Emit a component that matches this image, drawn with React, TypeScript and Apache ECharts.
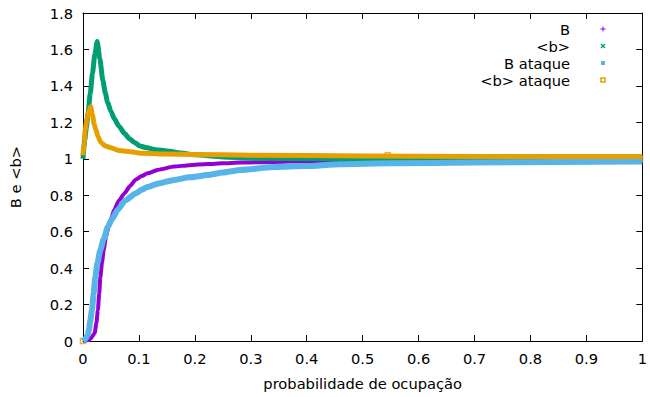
import React, { useEffect, useRef } from "react";
import * as echarts from "echarts";

// B
const bX = [0, 0.01, 0.014, 0.018, 0.021, 0.024, 0.0266, 0.029, 0.031, 0.034, 0.037, 0.041, 0.0455, 0.05, 0.056, 0.064, 0.074, 0.084, 0.094, 0.105, 0.115, 0.135, 0.163, 0.19, 0.223, 0.25, 0.282, 0.34, 0.4, 0.459, 0.55, 0.7, 0.85, 1.0];
const bY = [0, 0.005, 0.015, 0.03, 0.045, 0.1, 0.17, 0.26, 0.35, 0.43, 0.5, 0.57, 0.626, 0.67, 0.72, 0.77, 0.81, 0.85, 0.885, 0.905, 0.92, 0.94, 0.957, 0.965, 0.971, 0.975, 0.979, 0.983, 0.987, 0.99, 0.993, 0.996, 0.998, 1.0];

// <b>
const mbX = [0, 0.003, 0.006, 0.009, 0.013, 0.017, 0.021, 0.0254, 0.03, 0.0355, 0.04, 0.044, 0.05, 0.056, 0.064, 0.074, 0.083, 0.092, 0.102, 0.112, 0.13, 0.15, 0.175, 0.2, 0.25, 0.3, 0.4, 0.6, 0.8, 1.0];
const mbY = [1.0, 1.1, 1.17, 1.25, 1.36, 1.47, 1.57, 1.643, 1.55, 1.43, 1.36, 1.31, 1.26, 1.22, 1.18, 1.14, 1.11, 1.09, 1.07, 1.062, 1.05, 1.043, 1.032, 1.022, 1.01, 1.003, 1.0, 1.0, 1.0, 1.0];

// B ataque
const baX = [0, 0.004, 0.008, 0.0106, 0.013, 0.016, 0.019, 0.022, 0.026, 0.031, 0.037, 0.0443, 0.052, 0.062, 0.075, 0.094, 0.105, 0.115, 0.135, 0.163, 0.19, 0.223, 0.25, 0.282, 0.34, 0.4, 0.459, 0.55, 0.7, 0.85, 1.0];
const baY = [0, 0.01, 0.03, 0.06, 0.11, 0.17, 0.26, 0.35, 0.43, 0.5, 0.56, 0.626, 0.67, 0.72, 0.77, 0.81, 0.83, 0.845, 0.865, 0.884, 0.898, 0.911, 0.925, 0.938, 0.955, 0.96, 0.97, 0.975, 0.98, 0.983, 0.985];

// <b> ataque
const mbaX = [0, 0.002, 0.004, 0.007, 0.01, 0.0136, 0.017, 0.02, 0.023, 0.027, 0.032, 0.04, 0.05, 0.065, 0.08, 0.11, 0.15, 0.2, 0.3, 0.5, 0.7, 1.0];
const mbaY = [1.02, 1.09, 1.16, 1.22, 1.26, 1.285, 1.24, 1.19, 1.16, 1.12, 1.09, 1.07, 1.06, 1.045, 1.04, 1.03, 1.026, 1.024, 1.02, 1.015, 1.013, 1.013];

// isolated <b> ataque markers
const extraX = [0, 0.545, 0.996];
const extraY = [0, 1.02, 1.0];

const legendNames = ["B", "<b>", "B ataque", "<b> ataque"];
const colors = ["#9400d3", "#009e73", "#56b4e9", "#e69f00"];

const FONT = "DejaVu Sans";
const FS = 14.67;

const zip = (xs: number[], ys: number[]) => xs.map((x, i) => [x, ys[i]]);

export default function App() {
  const ref = useRef<HTMLDivElement>(null);
  useEffect(() => {
    const chart = echarts.init(ref.current!, null, { renderer: "svg" });
    const legendY = [29, 46, 63, 80];
    const graphics: any[] = [];
    legendNames.forEach((n, i) => {
      graphics.push({
        type: "text",
        x: 570,
        y: legendY[i],
        style: { text: n, fill: "#000", font: `${FS}px "${FONT}"`, textAlign: "right", textVerticalAlign: "middle" },
      });
    });
    const mx = 603;
    graphics.push(
      { type: "line", shape: { x1: mx - 2.5, y1: 29, x2: mx + 2.5, y2: 29 }, style: { stroke: colors[0], lineWidth: 1 } },
      { type: "line", shape: { x1: mx, y1: 26.5, x2: mx, y2: 31.5 }, style: { stroke: colors[0], lineWidth: 1 } },
      { type: "line", shape: { x1: mx - 2, y1: 44, x2: mx + 2, y2: 48 }, style: { stroke: colors[1], lineWidth: 1.2 } },
      { type: "line", shape: { x1: mx - 2, y1: 48, x2: mx + 2, y2: 44 }, style: { stroke: colors[1], lineWidth: 1.2 } },
      { type: "rect", shape: { x: mx - 2, y: 61, width: 4, height: 4 }, style: { fill: colors[2] } },
      { type: "rect", shape: { x: mx - 2, y: 78, width: 4, height: 4 }, style: { fill: "none", stroke: colors[3], lineWidth: 1.5 } }
    );

    const axisCommon = {
      min: 0,
      axisLine: { show: true, onZero: false, lineStyle: { color: "#000", width: 1 } },
      axisTick: { show: true, inside: true, length: 6, lineStyle: { color: "#000", width: 1 } },
      splitLine: { show: false },
    };
    const labelStyle = { color: "#000", fontSize: FS, fontFamily: FONT };

    const lineSeries = (name: string, data: number[][], color: string, w: number) => ({
      name,
      type: "line",
      data,
      showSymbol: false,
      smooth: 0.2,
      smoothMonotone: "x",
      lineStyle: { color, width: w, join: "round" },
      itemStyle: { color },
      silent: true,
    });

    chart.setOption({
      animation: false,
      backgroundColor: "#fff",
      grid: { left: 81, right: 5, top: 13, bottom: 56 },
      xAxis: [
        {
          ...axisCommon,
          type: "value",
          max: 1,
          interval: 0.1,
          position: "bottom",
          axisLabel: { ...labelStyle, margin: 10 },
          name: "probabilidade de ocupação",
          nameLocation: "middle",
          nameGap: 35,
          nameTextStyle: labelStyle,
        },
        {
          ...axisCommon,
          type: "value",
          max: 1,
          interval: 0.1,
          position: "top",
          axisLabel: { show: false },
        },
      ],
      yAxis: [
        {
          ...axisCommon,
          type: "value",
          max: 1.8,
          interval: 0.2,
          position: "left",
          axisLabel: { ...labelStyle, margin: 10 },
          name: "B e <b>",
          nameLocation: "middle",
          nameGap: 60,
          nameTextStyle: labelStyle,
        },
        {
          ...axisCommon,
          type: "value",
          max: 1.8,
          interval: 0.2,
          position: "right",
          axisLabel: { show: false },
        },
      ],
      series: [
        lineSeries(legendNames[0], zip(bX, bY), colors[0], 4),
        lineSeries(legendNames[1], zip(mbX, mbY), colors[1], 5),
        lineSeries(legendNames[2], zip(baX, baY), colors[2], 6),
        lineSeries(legendNames[3], zip(mbaX, mbaY), colors[3], 5),
        {
          name: "extra",
          type: "scatter",
          data: zip(extraX, extraY),
          symbol: "rect",
          symbolSize: 5,
          itemStyle: { color: "rgba(0,0,0,0)", borderColor: colors[3], borderWidth: 1.5 },
          silent: true,
        },
      ],
      graphic: graphics,
    });
    return () => chart.dispose();
  }, []);
  return (
    <div
      ref={ref}
      style={{ position: "fixed", left: 0, top: 0, width: 650, height: 397, background: "#fff" }}
    />
  );
}
